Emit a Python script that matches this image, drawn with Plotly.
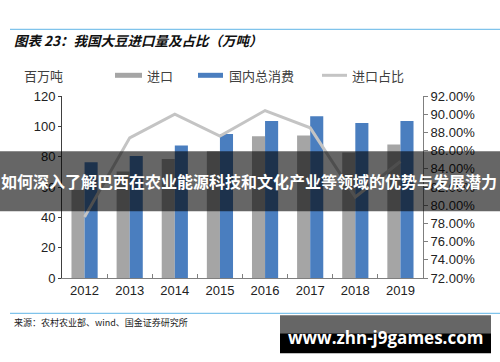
import plotly.graph_objects as go

years = ["2012", "2013", "2014", "2015", "2016", "2017", "2018", "2019"]
imports = [58.0, 70.3, 78.5, 83.5, 93.4, 93.9, 82.8, 88.1]
consumption = [76.3, 80.4, 87.3, 94.9, 103.5, 106.6, 102.2, 103.5]
import_share = [78.7, 87.4, 90.0, 87.6, 90.4, 88.5, 80.9, 84.8]

title_text = "图表 23：我国大豆进口量及占比（万吨）"
source_text = "来源：农村农业部、wind、国金证券研究所"
banner_text = "如何深入了解巴西在农业能源科技和文化产业等领域的优势与发展潜力"
watermark_text = "www.zhn-j9games.com"
unit_text = "百万吨"
legend_names = ["进口", "国内总消费", "进口占比"]

W, H = 500, 362
L, R, T, B = 62, 423, 95.7, 277.7


def px(x):
    return (x - L) / (R - L)


def py(y):
    return (B - y) / (B - T)


GREY = "#a5a5a5"
BLUE = "#4a7ebf"
LINE = "#c4c4c4"
CJK = "Noto Sans CJK SC"
LAT = "Liberation Sans, Arial"

fig = go.Figure()
fig.add_trace(go.Bar(x=years, y=imports, name=legend_names[0], marker_color=GREY,
                     marker_line_width=0))
fig.add_trace(go.Bar(x=years, y=consumption, name=legend_names[1], marker_color=BLUE,
                     marker_line_width=0))
fig.add_trace(go.Scatter(x=years, y=import_share, name=legend_names[2], yaxis="y2",
                         mode="lines", line=dict(color=LINE, width=3)))

shapes = []
annotations = []

# header / footer rules
shapes.append(dict(type="line", xref="paper", yref="paper", x0=px(10), x1=px(500),
                   y0=py(29), y1=py(29), line=dict(color="#5fb4e6", width=1)))
shapes.append(dict(type="line", xref="paper", yref="paper", x0=px(10), x1=px(500),
                   y0=py(313), y1=py(313), line=dict(color="#5fb4e6", width=1)))
annotations.append(dict(xref="paper", yref="paper", x=px(12), y=py(40), text="<b><i>" + title_text + "</i></b>",
                        showarrow=False, xanchor="left", yanchor="middle",
                        font=dict(family=CJK, size=13.5, color="#111")))
annotations.append(dict(xref="paper", yref="paper", x=px(12), y=py(322), text=source_text,
                        showarrow=False, xanchor="left", yanchor="middle",
                        font=dict(family=CJK, size=9, color="#222")))

# unit label
annotations.append(dict(xref="paper", yref="paper", x=px(43), y=py(75), text=unit_text,
                        showarrow=False, xanchor="center", yanchor="middle",
                        font=dict(family=CJK, size=13, color="#404040")))

# manual legend
leg = [(115, 142, GREY, 5, 145, legend_names[0]),
       (198, 223, BLUE, 5, 227, legend_names[1]),
       (322, 347, LINE, 3, 350, legend_names[2])]
for x0, x1, col, th, tx, name in leg:
    shapes.append(dict(type="rect", xref="paper", yref="paper", x0=px(x0), x1=px(x1),
                       y0=py(75 + th / 2), y1=py(75 - th / 2), fillcolor=col, line_width=0))
    annotations.append(dict(xref="paper", yref="paper", x=px(tx), y=py(75), text=name,
                            showarrow=False, xanchor="left", yanchor="middle",
                            font=dict(family=CJK, size=13, color="#404040")))

# overlay banner
shapes.append(dict(type="rect", xref="paper", yref="paper", x0=px(-5), x1=px(505),
                   y0=py(211), y1=py(151), fillcolor="rgba(0,0,0,0.6)", line_width=0, layer="above"))
annotations.append(dict(xref="paper", yref="paper", x=px(249), y=py(181), text="<b>" + banner_text + "</b>",
                        showarrow=False, xanchor="center", yanchor="middle",
                        font=dict(family=CJK, size=16, color="white")))

# watermark
shapes.append(dict(type="rect", xref="paper", yref="paper", x0=px(280), x1=px(491),
                   y0=py(333), y1=py(315), fillcolor="#666666", line_width=0, layer="above"))
shapes.append(dict(type="rect", xref="paper", yref="paper", x0=px(280), x1=px(491),
                   y0=py(353), y1=py(333), fillcolor="#000000", line_width=0, layer="above"))
annotations.append(dict(xref="paper", yref="paper", x=px(385), y=py(337), text="<b>" + watermark_text + "</b>",
                        showarrow=False, xanchor="center", yanchor="middle",
                        font=dict(family="Open Sans", size=17, color="white")))

fig.update_layout(
    width=W, height=H, autosize=False,
    margin=dict(l=L, r=W - R, t=T, b=H - B, pad=0),
    paper_bgcolor="white", plot_bgcolor="white",
    showlegend=False,
    barmode="group", bargap=0.42, bargroupgap=0,
    shapes=shapes, annotations=annotations,
    xaxis=dict(type="category", showgrid=False, showline=True, linecolor="#7f7f7f", linewidth=1,
               ticks="inside", tickson="boundaries", ticklen=4, tickcolor="#7f7f7f",
               tickfont=dict(family=LAT, size=13, color="#222")),
    yaxis=dict(range=[0, 120], dtick=20, showgrid=False, zeroline=False, showline=True,
               linecolor="#404040", linewidth=1, ticks="outside", ticklen=3, tickcolor="#404040",
               tickfont=dict(family=LAT, size=13, color="#222")),
    yaxis2=dict(range=[72, 92], dtick=2, overlaying="y", side="right", showgrid=False,
                zeroline=False, showline=True, linecolor="#7f7f7f", linewidth=1,
                ticks="outside", ticklen=4, tickcolor="#7f7f7f",
                tickformat=".2f", ticksuffix="%",
                tickfont=dict(family=LAT, size=13, color="#222")),
)

fig.write_html("out.html", config={"displayModeBar": False},
               post_script="document.body.style.margin='0';document.body.style.padding='0';")
